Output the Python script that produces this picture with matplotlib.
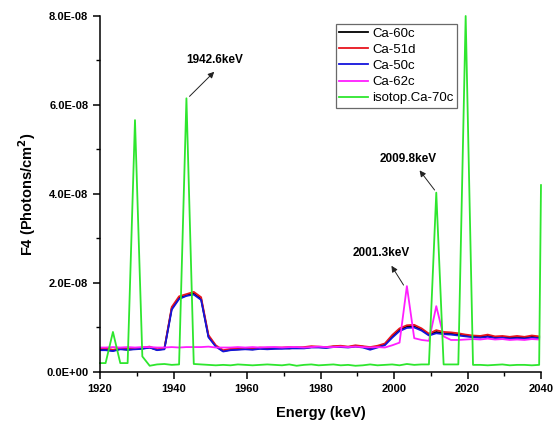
import numpy as np
import matplotlib
matplotlib.use("Agg")
import matplotlib.pyplot as plt
from matplotlib.ticker import MultipleLocator, FuncFormatter

plt.rcParams["font.family"] = ["Liberation Sans", "DejaVu Sans"]

# energy grid (keV), 2 keV bins
energy = np.array([
    1921.5, 1923.5, 1925.5, 1927.5, 1929.5, 1931.5, 1933.5, 1935.5, 1937.5, 1939.5,
    1941.5, 1943.5, 1945.5, 1947.5, 1949.5, 1951.5, 1953.5, 1955.5, 1957.5, 1959.5,
    1961.5, 1963.5, 1965.5, 1967.5, 1969.5, 1971.5, 1973.5, 1975.5, 1977.5, 1979.5,
    1981.5, 1983.5, 1985.5, 1987.5, 1989.5, 1991.5, 1993.5, 1995.5, 1997.5, 1999.5,
    2001.5, 2003.5, 2005.5, 2007.5, 2009.5, 2011.5, 2013.5, 2015.5, 2017.5, 2019.5,
    2021.5, 2023.5, 2025.5, 2027.5, 2029.5, 2031.5, 2033.5, 2035.5, 2037.5, 2039.5,
])

# F4 values in units of 1E-08 photons/cm^2
ca60c = np.array([
    0.50, 0.48, 0.52, 0.50, 0.52, 0.53, 0.55, 0.50, 0.52, 1.43,
    1.66, 1.72, 1.76, 1.64, 0.80, 0.58, 0.47, 0.50, 0.51, 0.52,
    0.51, 0.53, 0.52, 0.53, 0.54, 0.53, 0.55, 0.54, 0.56, 0.56,
    0.55, 0.57, 0.57, 0.56, 0.58, 0.57, 0.53, 0.57, 0.62, 0.80,
    0.95, 1.02, 1.03, 0.95, 0.84, 0.90, 0.87, 0.86, 0.84, 0.82,
    0.80, 0.79, 0.81, 0.78, 0.79, 0.77, 0.78, 0.77, 0.79, 0.78,
])
ca51d = np.array([
    0.53, 0.50, 0.53, 0.52, 0.52, 0.55, 0.57, 0.51, 0.53, 1.46,
    1.70, 1.75, 1.80, 1.68, 0.83, 0.60, 0.49, 0.52, 0.53, 0.53,
    0.52, 0.55, 0.54, 0.55, 0.55, 0.56, 0.55, 0.56, 0.58, 0.57,
    0.56, 0.58, 0.59, 0.57, 0.60, 0.58, 0.56, 0.59, 0.64, 0.83,
    0.98, 1.05, 1.06, 0.98, 0.86, 0.94, 0.90, 0.89, 0.87, 0.84,
    0.82, 0.81, 0.84, 0.80, 0.81, 0.79, 0.81, 0.79, 0.82, 0.80,
])
ca50c = np.array([
    0.49, 0.47, 0.51, 0.50, 0.51, 0.52, 0.55, 0.49, 0.51, 1.40,
    1.64, 1.71, 1.74, 1.62, 0.78, 0.57, 0.46, 0.49, 0.50, 0.51,
    0.50, 0.52, 0.51, 0.52, 0.52, 0.53, 0.53, 0.53, 0.55, 0.55,
    0.54, 0.56, 0.56, 0.55, 0.57, 0.55, 0.50, 0.55, 0.60, 0.77,
    0.92, 0.99, 1.00, 0.93, 0.82, 0.87, 0.85, 0.84, 0.82, 0.80,
    0.78, 0.77, 0.79, 0.76, 0.77, 0.75, 0.76, 0.75, 0.77, 0.76,
])
ca62c = np.array([
    0.55, 0.56, 0.55, 0.56, 0.55, 0.56, 0.56, 0.55, 0.55, 0.56,
    0.55, 0.56, 0.56, 0.56, 0.57, 0.55, 0.55, 0.55, 0.56, 0.55,
    0.56, 0.55, 0.56, 0.56, 0.55, 0.56, 0.56, 0.55, 0.56, 0.57,
    0.56, 0.56, 0.57, 0.56, 0.57, 0.56, 0.55, 0.56, 0.55, 0.60,
    0.66, 1.93, 0.76, 0.72, 0.70, 1.48, 0.80, 0.72, 0.72, 0.73,
    0.74, 0.73, 0.75, 0.73, 0.74, 0.72, 0.73, 0.72, 0.74, 0.73,
])
ca70c = np.array([
    0.20, 0.90, 0.20, 0.20, 5.66, 0.35, 0.14, 0.17, 0.18, 0.16,
    0.17, 6.15, 0.18, 0.17, 0.16, 0.15, 0.16, 0.15, 0.17, 0.16,
    0.15, 0.16, 0.17, 0.16, 0.15, 0.17, 0.14, 0.16, 0.17, 0.15,
    0.16, 0.17, 0.15, 0.16, 0.14, 0.15, 0.17, 0.15, 0.16, 0.17,
    0.15, 0.18, 0.16, 0.17, 0.17, 4.03, 0.17, 0.17, 0.17, 8.00,
    0.16, 0.16, 0.15, 0.16, 0.17, 0.15, 0.16, 0.16, 0.15, 0.16,
])
# green trace edges at the axis limits
ca70c_start = (1920.0, 0.20)
ca70c_end = (2040.0, 4.20)

labels = ["Ca-60c", "Ca-51d", "Ca-50c", "Ca-62c", "isotop.Ca-70c"]
colors = ["#000000", "#e8141e", "#1414dc", "#ff1eff", "#2ee62e"]

scale = 1e-8

fig = plt.figure(figsize=(5.56, 4.21), dpi=100)
ax = fig.add_axes([0.18, 0.1164, 0.793, 0.8456])

series = [ca60c, ca51d, ca50c, ca62c]
for vals, lab, col in zip(series, labels[:4], colors[:4]):
    x = np.concatenate([[1920.0], energy])
    y = np.concatenate([[vals[0]], vals]) * scale
    ax.plot(x, y, color=col, lw=1.3, label=lab)

xg = np.concatenate([[ca70c_start[0]], energy, [ca70c_end[0]]])
yg = np.concatenate([[ca70c_start[1]], ca70c, [ca70c_end[1]]]) * scale
ax.plot(xg, yg, color=colors[4], lw=1.3, label=labels[4], clip_on=False)

ax.set_xlim(1920, 2040)
ax.set_ylim(0, 8e-8)
ax.xaxis.set_major_locator(MultipleLocator(20))
ax.xaxis.set_minor_locator(MultipleLocator(10))
ax.yaxis.set_major_locator(MultipleLocator(2e-8))
ax.yaxis.set_minor_locator(MultipleLocator(1e-8))
ax.yaxis.set_major_formatter(FuncFormatter(lambda v, p: "%.1E" % v))

for s in ["top", "right"]:
    ax.spines[s].set_visible(False)
for s in ["left", "bottom"]:
    ax.spines[s].set_linewidth(1.1)
ax.tick_params(which="major", direction="out", length=5, width=1.1,
               labelsize=8)
ax.tick_params(which="minor", direction="out", length=3, width=1.0)
for t in ax.get_xticklabels() + ax.get_yticklabels():
    t.set_fontweight("bold")

ax.set_xlabel("Energy (keV)", fontsize=10.5, fontweight="bold", labelpad=9)
ax.set_ylabel(r"F4 (Photons/cm$^\mathbf{2}$)", fontsize=10.5,
              fontweight="bold", labelpad=6)

arrow = dict(arrowstyle="-|>", color="#222222", lw=0.7, mutation_scale=9)
notes = [
    ("1942.6keV", (1943.8, 6.15e-8), (1951.6, 6.79e-8), (1951.3, 7.01e-8)),
    ("2009.8keV", (2011.5, 4.04e-8), (2006.5, 4.58e-8), (2003.8, 4.79e-8)),
    ("2001.3keV", (2003.0, 1.90e-8), (1998.9, 2.44e-8), (1996.6, 2.68e-8)),
]
for txt, tail, head, pos in notes:
    ax.annotate("", xy=head, xytext=tail, arrowprops=arrow)
    ax.text(pos[0], pos[1], txt, fontsize=8.5, fontweight="bold",
            ha="center", va="center")

leg = ax.legend(loc="upper left", bbox_to_anchor=(0.535, 0.977), fontsize=9.5,
                frameon=True, fancybox=False, handlelength=2.2,
                handletextpad=0.3, labelspacing=0.3, borderpad=0.25,
                borderaxespad=0)
leg.get_frame().set_edgecolor("#444444")
leg.get_frame().set_linewidth(0.9)

fig.savefig("out.png", dpi=100)
